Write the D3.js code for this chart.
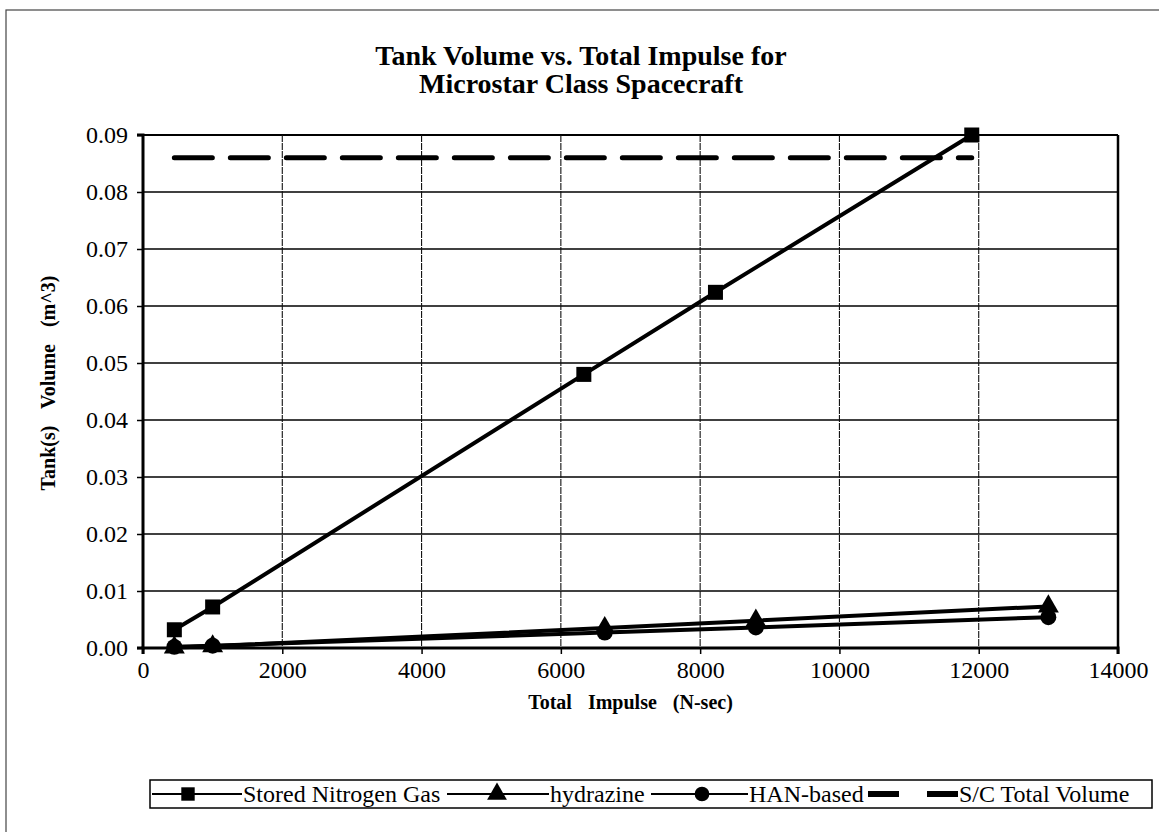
<!DOCTYPE html>
<html>
<head>
<meta charset="utf-8">
<script src="https://cdn.jsdelivr.net/npm/d3@7"></script>
<style>
  body { margin: 0; background: #fff; }
  text { font-family: "Liberation Serif", "Times New Roman", serif; fill: #000; }
</style>
</head>
<body>
<script>
// values
const nitrogenX = [450, 1000, 6330, 8220, 11900];
const nitrogenY = [0.0032, 0.0072, 0.0480, 0.0624, 0.0900];
const hydrazineX = [450, 1000, 6630, 8800, 13000];
const hydrazineY = [0.0001, 0.0003, 0.0035, 0.0048, 0.0073];
const hanX = [450, 1000, 6630, 8800, 13000];
const hanY = [0.0002, 0.0004, 0.0027, 0.0036, 0.0054];
const scVolumeX = [450, 11900];
const scVolumeY = [0.086, 0.086];
const xTicks = [0, 2000, 4000, 6000, 8000, 10000, 12000, 14000];
const yTicks = [0, 0.01, 0.02, 0.03, 0.04, 0.05, 0.06, 0.07, 0.08, 0.09];
const seriesNames = ['Stored Nitrogen Gas', 'hydrazine', 'HAN-based', 'S/C Total Volume'];

const width = 1159;
const height = 832;
const plot = { left: 143, right: 1118, top: 135, bottom: 648 };

const zip = (xs, ys) => xs.map((x, i) => ({ x: x, y: ys[i] }));
const series = [
  { name: seriesNames[0], data: zip(nitrogenX, nitrogenY), marker: d3.symbolSquare, size: 225 },
  { name: seriesNames[1], data: zip(hydrazineX, hydrazineY), marker: d3.symbolTriangle, size: 190 },
  { name: seriesNames[2], data: zip(hanX, hanY), marker: d3.symbolCircle, size: 200 }
];

const svg = d3.select('body').append('svg')
  .attr('width', width)
  .attr('height', height);

// outer frame of the scanned page
svg.append('rect')
  .attr('x', 6).attr('y', 10)
  .attr('width', width + 10).attr('height', height)
  .attr('fill', 'none')
  .attr('stroke', '#444')
  .attr('stroke-width', 1.2);

const xScale = d3.scaleLinear().domain([0, 14000]).range([plot.left, plot.right]);
const yScale = d3.scaleLinear().domain([0, 0.09]).range([plot.bottom, plot.top]);

// title
svg.append('text')
  .attr('x', 581).attr('y', 65)
  .attr('text-anchor', 'middle')
  .style('font-size', '28px').style('font-weight', 'bold')
  .text('Tank Volume vs. Total Impulse for');
svg.append('text')
  .attr('x', 581).attr('y', 93)
  .attr('text-anchor', 'middle')
  .style('font-size', '28px').style('font-weight', 'bold')
  .text('Microstar Class Spacecraft');

// grid
svg.append('g')
  .selectAll('line')
  .data(yTicks.slice(1))
  .enter()
  .append('line')
  .attr('x1', plot.left).attr('x2', plot.right)
  .attr('y1', (d) => yScale(d)).attr('y2', (d) => yScale(d))
  .attr('stroke', '#000')
  .attr('stroke-width', (d) => d === 0.09 ? 2.2 : 1.4);

svg.append('g')
  .selectAll('line')
  .data(xTicks.slice(1, -1))
  .enter()
  .append('line')
  .attr('x1', (d) => xScale(d)).attr('x2', (d) => xScale(d))
  .attr('y1', plot.top).attr('y2', plot.bottom)
  .attr('stroke', '#111')
  .attr('stroke-width', 1.1)
  .attr('stroke-dasharray', '7,1');

// right border
svg.append('line')
  .attr('x1', plot.right).attr('x2', plot.right)
  .attr('y1', plot.top).attr('y2', plot.bottom)
  .attr('stroke', '#000').attr('stroke-width', 2.5);

// axes
const xAxis = d3.axisBottom(xScale).tickValues(xTicks).tickFormat(d3.format('d')).tickSize(6).tickPadding(7);
const yAxis = d3.axisLeft(yScale).tickValues(yTicks).tickFormat(d3.format('.2f')).tickSize(6).tickPadding(9);

const gx = svg.append('g')
  .attr('transform', `translate(0, ${plot.bottom})`)
  .call(xAxis);
const gy = svg.append('g')
  .attr('transform', `translate(${plot.left}, 0)`)
  .call(yAxis);

[gx, gy].forEach((g) => {
  g.select('.domain').attr('stroke', '#000').attr('stroke-width', 3);
  g.selectAll('.tick line').attr('stroke', '#000').attr('stroke-width', 1.5);
  g.selectAll('.tick text')
    .style('font-family', '"Liberation Serif", serif')
    .style('font-size', '24px')
    .attr('fill', '#000');
});
gx.select('.domain').attr('d', `M${plot.left},6V0H${plot.right}V6`);
gy.select('.domain').attr('d', `M-6,${plot.top}H0V${plot.bottom}H-6`);

// axis titles
svg.append('text')
  .attr('x', (plot.left + plot.right) / 2).attr('y', 709)
  .attr('text-anchor', 'middle')
  .style('font-size', '20px').style('font-weight', 'bold')
  .style('word-spacing', '11px')
  .text('Total Impulse (N-sec)');
svg.append('text')
  .attr('transform', `translate(55, ${yScale(0.0465)}) rotate(-90)`)
  .attr('text-anchor', 'middle')
  .style('font-size', '20px').style('font-weight', 'bold')
  .style('word-spacing', '12px')
  .text('Tank(s) Volume (m^3)');

// S/C total volume dashed line
const line = d3.line()
  .x((d) => xScale(d.x))
  .y((d) => yScale(d.y));

svg.append('path')
  .datum(zip(scVolumeX, scVolumeY))
  .attr('d', line)
  .attr('fill', 'none')
  .attr('stroke', '#000')
  .attr('stroke-width', 5)
  .attr('stroke-linecap', 'round')
  .attr('stroke-dasharray', '38,18');

// series lines and markers
series.forEach((s) => {
  svg.append('path')
    .datum(s.data)
    .attr('d', line)
    .attr('fill', 'none')
    .attr('stroke', '#000')
    .attr('stroke-width', 4);

  svg.append('g')
    .selectAll('path')
    .data(s.data)
    .enter()
    .append('path')
    .attr('transform', (d) => `translate(${xScale(d.x)}, ${yScale(d.y)})`)
    .attr('d', d3.symbol().type(s.marker).size(s.size))
    .attr('fill', '#000');
});

// legend
const legend = svg.append('g');
legend.append('rect')
  .attr('x', 150).attr('y', 780)
  .attr('width', 1002).attr('height', 28)
  .attr('fill', 'none')
  .attr('stroke', '#000')
  .attr('stroke-width', 1.5);

const legendItems = [
  { name: seriesNames[0], x1: 152, x2: 242, mx: 188, marker: d3.symbolSquare, size: 180, tx: 243 },
  { name: seriesNames[1], x1: 447, x2: 549, mx: 497, marker: d3.symbolTriangle, size: 170, tx: 550 },
  { name: seriesNames[2], x1: 651, x2: 748, mx: 702, marker: d3.symbolCircle, size: 170, tx: 749 }
];
legendItems.forEach((it) => {
  legend.append('line')
    .attr('x1', it.x1).attr('x2', it.x2)
    .attr('y1', 794).attr('y2', 794)
    .attr('stroke', '#000').attr('stroke-width', 2);
  legend.append('path')
    .attr('transform', `translate(${it.mx}, 794)`)
    .attr('d', d3.symbol().type(it.marker).size(it.size))
    .attr('fill', '#000');
  legend.append('text')
    .attr('x', it.tx).attr('y', 802)
    .style('font-size', '24px')
    .text(it.name);
});
legend.append('line')
  .attr('x1', 868).attr('x2', 958)
  .attr('y1', 794).attr('y2', 794)
  .attr('stroke', '#000').attr('stroke-width', 6)
  .attr('stroke-dasharray', '31,28');
legend.append('text')
  .attr('x', 959).attr('y', 802)
  .style('font-size', '24px')
  .text(seriesNames[3]);
</script>
</body>
</html>
